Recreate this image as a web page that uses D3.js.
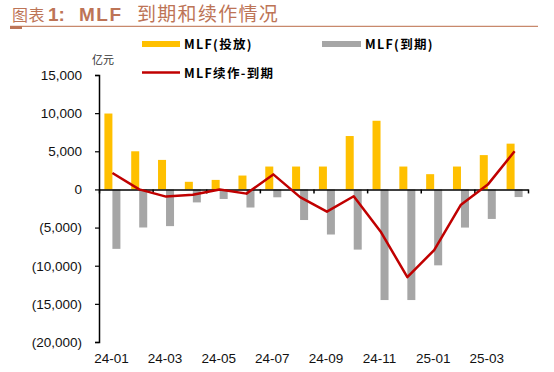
<!DOCTYPE html>
<html>
<head>
<meta charset="utf-8">
<script src="https://cdn.jsdelivr.net/npm/d3@7"></script>
<style>
body { margin: 0; background: #fff; }
svg { display: block; font-family: "Liberation Sans", Arial, sans-serif; }
.cjk { font-family: "Noto Sans CJK SC", sans-serif; }
</style>
</head>
<body>
<script>
// months 24-01 .. 25-04
var months = ['24-01','24-02','24-03','24-04','24-05','24-06','24-07','24-08',
              '24-09','24-10','24-11','24-12','25-01','25-02','25-03','25-04'];
var mlfPut = [9950, 5000, 3870, 1000, 1250, 1820, 3000, 3000,
              3000, 7000, 9000, 3000, 2000, 3000, 4500, 6000];
var mlfDue = [-7790, -4990, -4810, -1700, -1250, -2370, -1030, -4010,
              -5910, -7890, -14500, -14500, -9950, -5000, -3870, -1000];
var mlfNet = [2160, 10, -940, -700, 0, -550, 1970, -1010,
              -2910, -890, -5500, -11500, -7950, -2000, 630, 5000];
var yTicks = [15000, 10000, 5000, 0, -5000, -10000, -15000, -20000];
var xLabels = ['24-01','24-03','24-05','24-07','24-09','24-11','25-01','25-03'];

var w = 554, h = 372;
var plotL = 99, plotR = 528, plotT = 75, plotB = 342;
var titleColor = '#bd7456';

var svg = d3.select('body').append('svg')
	.attr('width', w)
	.attr('height', h);

// title + rule
var title = svg.append('g').attr('fill', titleColor);
title.append('text')
	.attr('class', 'cjk')
	.attr('x', 12).attr('y', 21)
	.attr('font-size', 16).attr('letter-spacing', 0.5)
	.text('图表');
title.append('text')
	.attr('x', 48).attr('y', 21)
	.attr('font-size', 19).attr('font-weight', 'bold')
	.text('1:');
title.append('text')
	.attr('x', 79).attr('y', 21)
	.attr('font-size', 19).attr('font-weight', 'bold')
	.attr('letter-spacing', 1.5)
	.text('MLF');
title.append('text')
	.attr('class', 'cjk')
	.attr('x', 137).attr('y', 21)
	.attr('font-size', 19).attr('letter-spacing', 1.3)
	.text('到期和续作情况');
svg.append('line')
	.attr('x1', 10).attr('x2', 538).attr('y1', 26.3).attr('y2', 26.3)
	.attr('stroke', '#c8896c').attr('stroke-width', 1.2);
svg.append('rect')
	.attr('x', 10).attr('y', 26).attr('width', 12).attr('height', 3)
	.attr('fill', titleColor);

// scales
var xScale = d3.scaleBand()
	.domain(months)
	.range([plotL, plotR]);
var xSub = d3.scaleBand()
	.domain(['put', 'due'])
	.range([5.4, xScale.bandwidth() - 5.4]);
var xIdx = d3.scaleLinear()
	.domain([0, months.length])
	.range([plotL, plotR]);
var yScale = d3.scaleLinear()
	.domain([-20000, 15000])
	.range([plotB, plotT]);

var fmt = d3.format(',');

// bars
svg.append('g').selectAll('rect')
	.data(mlfPut)
	.enter()
	.append('rect')
	.attr('x', (d, i) => xScale(months[i]) + xSub('put'))
	.attr('y', (d) => yScale(d))
	.attr('width', xSub.bandwidth())
	.attr('height', (d) => yScale(0) - yScale(d))
	.attr('fill', '#FFC000');

svg.append('g').selectAll('rect')
	.data(mlfDue)
	.enter()
	.append('rect')
	.attr('x', (d, i) => xScale(months[i]) + xSub('due'))
	.attr('y', yScale(0))
	.attr('width', xSub.bandwidth())
	.attr('height', (d) => yScale(d) - yScale(0))
	.attr('fill', '#A6A6A6');

// y axis
var yAxis = d3.axisLeft(yScale)
	.tickValues(yTicks)
	.tickSize(4)
	.tickPadding(13)
	.tickFormat((d) => d < 0 ? '(' + fmt(-d) + ')' : fmt(d));
var gy = svg.append('g')
	.attr('transform', `translate(${plotL},0)`)
	.call(yAxis);
gy.select('.domain').attr('stroke', '#000').attr('stroke-width', 1.5);
gy.selectAll('.tick line').attr('stroke', '#000').attr('stroke-width', 1.2);
gy.selectAll('.tick text')
	.attr('font-size', 13.5)
	.attr('font-family', '"Liberation Sans", Arial, sans-serif')
	.attr('fill', '#111');

// x axis on zero line
var xAxis = d3.axisBottom(xIdx)
	.tickValues(d3.range(0, months.length + 1, 2))
	.tickSize(4)
	.tickSizeOuter(0)
	.tickFormat('');
var gx = svg.append('g')
	.attr('transform', `translate(0,${yScale(0)})`)
	.call(xAxis);
gx.select('.domain').attr('stroke', '#000').attr('stroke-width', 1.5);
gx.selectAll('.tick line').attr('stroke', '#000').attr('stroke-width', 1.5);

svg.append('g').selectAll('text')
	.data(xLabels)
	.enter()
	.append('text')
	.attr('x', (d) => xScale(d) + xScale.bandwidth() / 2 - 1)
	.attr('y', 363)
	.attr('text-anchor', 'middle')
	.attr('font-size', 13.5)
	.attr('fill', '#111')
	.text((d) => d);

// net line
var line = d3.line()
	.x((d, i) => xScale(months[i]) + xScale.bandwidth() / 2)
	.y((d) => yScale(d));
svg.append('path')
	.datum(mlfNet)
	.attr('d', line)
	.attr('fill', 'none')
	.attr('stroke', '#C00000')
	.attr('stroke-width', 2.5)
	.attr('stroke-linejoin', 'round');

// unit
svg.append('text')
	.attr('class', 'cjk')
	.attr('x', 92).attr('y', 64)
	.attr('font-size', 11)
	.attr('fill', '#333')
	.text('亿元');

// legend
var legend = svg.append('g').attr('class', 'cjk')
	.attr('font-size', 12.5).attr('font-weight', 'bold')
	.attr('letter-spacing', 1.3);
legend.append('rect')
	.attr('x', 142).attr('y', 41).attr('width', 38).attr('height', 6)
	.attr('fill', '#FFC000');
legend.append('text')
	.attr('x', 184).attr('y', 49)
	.text('MLF(投放)');
legend.append('rect')
	.attr('x', 322).attr('y', 41).attr('width', 39).attr('height', 6)
	.attr('fill', '#A6A6A6');
legend.append('text')
	.attr('x', 365).attr('y', 49)
	.text('MLF(到期)');
legend.append('line')
	.attr('x1', 142).attr('x2', 180).attr('y1', 72.5).attr('y2', 72.5)
	.attr('stroke', '#C00000').attr('stroke-width', 2.5);
legend.append('text')
	.attr('x', 184).attr('y', 78)
	.text('MLF续作-到期');
</script>
</body>
</html>
